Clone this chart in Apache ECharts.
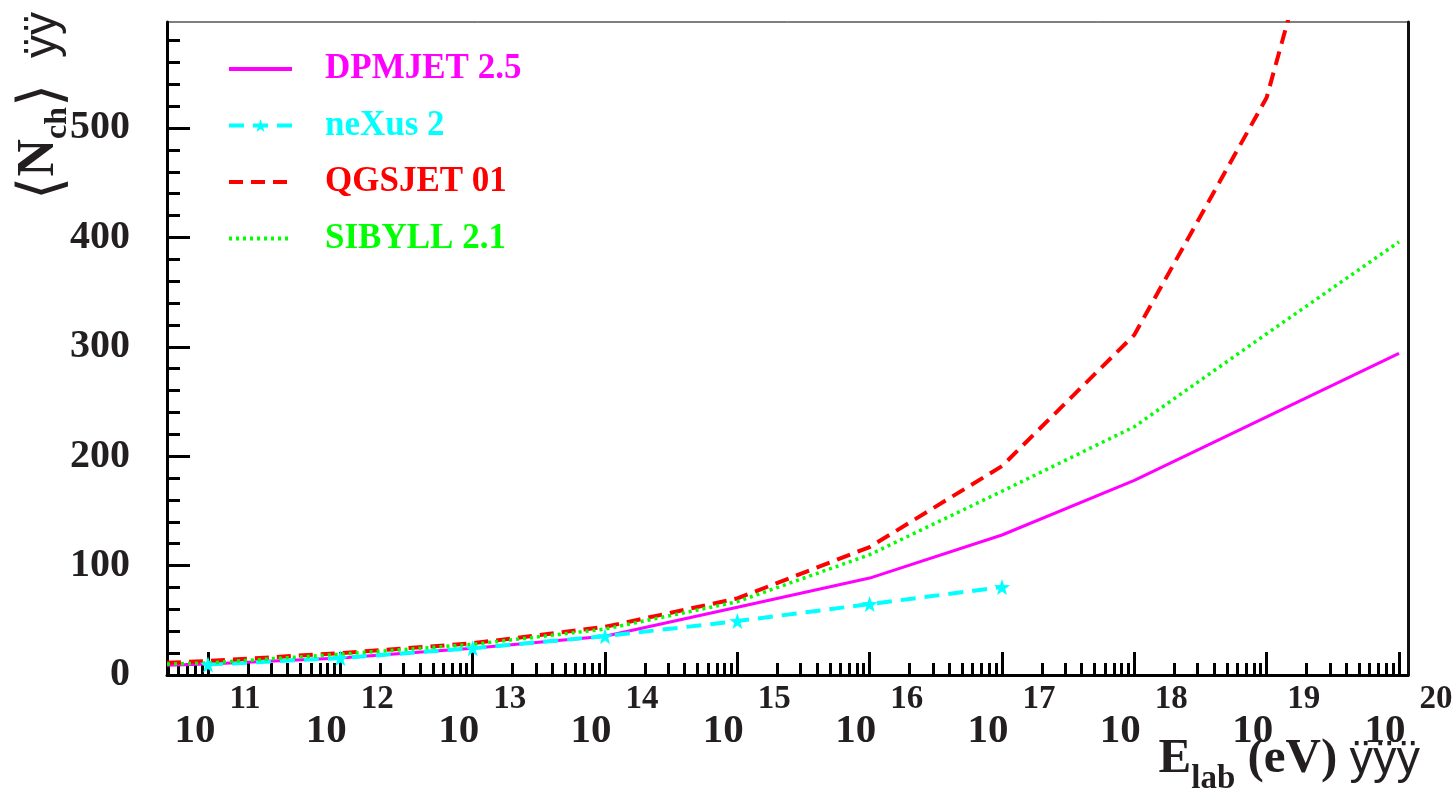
<!DOCTYPE html>
<html>
<head>
<meta charset="utf-8">
<script src="https://cdn.jsdelivr.net/npm/echarts@6/dist/echarts.min.js"></script>
<style>
  html, body { margin: 0; padding: 0; background: #fff; }
  #nch-chart { width: 1454px; height: 790px; }
</style>
</head>
<body>
<div id="nch-chart"></div>
<script>
// log10(E_lab / eV) of each point, and <N_ch>
var dpmjetExp = [10.69, 11, 12, 13, 14, 15, 16, 17, 18, 19, 20];
var dpmjetNch = [9, 10, 15.5, 24.5, 35.5, 62, 88.6, 128, 178, 236, 294];

var nexusExp = [11, 12, 13, 14, 15, 16, 17];
var nexusNch = [9.5, 15.5, 24.5, 35.5, 49.3, 64.8, 80.4];

var qgsjetExp = [10.69, 11, 12, 13, 14, 15, 16, 17, 18, 19, 20];
var qgsjetNch = [11.2, 12.8, 20, 29, 44, 70, 117, 191, 311, 528, 966];

var sibyllExp = [10.69, 11, 12, 13, 14, 15, 16, 17, 18, 19, 20];
var sibyllNch = [10, 11, 19, 28, 42, 67, 110, 168, 227, 312, 396];

var decadeExp = [11, 12, 13, 14, 15, 16, 17, 18, 19, 20];
var yMajor = [0, 100, 200, 300, 400, 500];
var yMinor = [20, 40, 60, 80, 120, 140, 160, 180, 220, 240, 260, 280, 320, 340, 360, 380,
              420, 440, 460, 480, 520, 540, 560, 580];

function toPairs(exps, vals) {
  return exps.map(function (e, i) { return [Math.pow(10, e), vals[i]]; });
}

var decadeVals = decadeExp.map(function (e) { return Math.pow(10, e); });
var minorVals = [];
for (var d = 10; d < 20; d++) {
  for (var k = 2; k <= 9; k++) minorVals.push(k * Math.pow(10, d));
}

var serif = 'Liberation Serif, Times New Roman, serif';
var sans = 'Liberation Sans, Arial, sans-serif';
var ink = '#231f20';
var star = 'path://M0,-10L2.35,-3.24L9.51,-3.09L3.8,1.24L5.88,8.09L0,4L-5.88,8.09L-3.8,1.24L-9.51,-3.09L-2.35,-3.24Z';

var xMin = Math.pow(10, 10.69);
var xMax = Math.pow(10, 20.068);

var myChart = echarts.init(document.getElementById('nch-chart'));
myChart.setOption({
  animation: false,
  grid: {
    left: 167, right: 46, top: 22, bottom: 115,
    outerBoundsMode: 'none',
    show: true, borderColor: '#000', borderWidth: 1
  },
  legend: {
    orient: 'vertical',
    left: 222, top: 44,
    itemWidth: 63, itemHeight: 16,
    itemGap: 16.5,
    textStyle: { fontFamily: serif, fontWeight: 'bold', fontSize: 35, lineHeight: 40, padding: [0, 0, 0, 28] },
    data: [
      { name: 'DPMJET 2.5', textStyle: { color: '#ff00ff' }, itemStyle: { opacity: 0 }, lineStyle: { width: 4 } },
      { name: 'neXus 2', textStyle: { color: '#00ffff' }, lineStyle: { width: 4 } },
      { name: 'QGSJET 01', textStyle: { color: '#ff0000' }, itemStyle: { opacity: 0 }, lineStyle: { width: 4 } },
      { name: 'SIBYLL 2.1', textStyle: { color: '#00ff00' }, itemStyle: { opacity: 0 }, lineStyle: { width: 4 } }
    ]
  },
  xAxis: [
    {
      type: 'log', min: xMin, max: xMax,
      position: 'bottom',
      axisLine: { lineStyle: { color: '#000', width: 3 } },
      axisTick: { inside: true, length: 23, customValues: decadeVals, lineStyle: { color: '#000', width: 3 } },
      splitLine: { show: false },
      axisLabel: {
        customValues: decadeVals,
        margin: 36,
        padding: [0, 0, 0, 19],
        formatter: function (v) {
          return '{b|10}{e|' + Math.round(Math.log10(v)) + '}';
        },
        rich: {
          b: { fontFamily: serif, fontWeight: 'bold', fontSize: 41, lineHeight: 41, color: ink, verticalAlign: 'bottom' },
          e: { fontFamily: serif, fontWeight: 'bold', fontSize: 33, lineHeight: 33, color: ink, verticalAlign: 'bottom', padding: [0, 0, 36, 14] }
        }
      },
      name: '{E|E}{s|lab}{t| (eV) }{y|ÿÿÿ}',
      nameLocation: 'end',
      nameGap: 12,
      nameMoveOverlap: false,
      nameTextStyle: {
        align: 'right', verticalAlign: 'top', padding: [60, 0, 0, 0],
        rich: {
          E: { fontFamily: serif, fontWeight: 'bold', fontSize: 49, color: ink, verticalAlign: 'bottom', padding: [0, 0, 12, 0] },
          s: { fontFamily: serif, fontWeight: 'bold', fontSize: 33, color: ink, verticalAlign: 'bottom' },
          t: { fontFamily: serif, fontWeight: 'bold', fontSize: 49, color: ink, verticalAlign: 'bottom', padding: [0, 0, 12, 0] },
          y: { fontFamily: sans, fontSize: 47, color: ink, verticalAlign: 'bottom', padding: [0, 0, 12, 0] }
        }
      }
    },
    {
      type: 'log', min: xMin, max: xMax,
      position: 'bottom',
      axisLine: { show: false },
      axisTick: { inside: true, length: 12, customValues: minorVals, lineStyle: { color: '#000', width: 3 } },
      splitLine: { show: false },
      axisLabel: { show: false }
    }
  ],
  yAxis: [
    {
      type: 'value', min: 0, max: 597,
      position: 'left',
      axisLine: { show: true, lineStyle: { color: '#000', width: 3 } },
      axisTick: { show: true, inside: true, length: 23, customValues: yMajor, lineStyle: { color: '#000', width: 3 } },
      splitLine: { show: false },
      axisLabel: {
        customValues: yMajor,
        margin: 37,
        fontFamily: serif, fontWeight: 'bold', fontSize: 40, color: ink
      },
      name: '{a|⟨}{N|N}{s|ch}{a|⟩}{y|  ÿÿ}',
      nameLocation: 'end',
      nameRotate: 90,
      nameGap: 10,
      nameMoveOverlap: false,
      nameTextStyle: {
        align: 'right', verticalAlign: 'bottom', padding: [0, 0, 93, 0],
        rich: {
          a: { fontFamily: 'DejaVu Serif, serif', fontSize: 60, color: ink, verticalAlign: 'bottom' },
          N: { fontFamily: serif, fontWeight: 'bold', fontSize: 52, color: ink, verticalAlign: 'bottom', padding: [0, 0, 8, 0] },
          s: { fontFamily: serif, fontWeight: 'bold', fontSize: 32, color: ink, verticalAlign: 'bottom' },
          y: { fontFamily: sans, fontSize: 46, color: ink, verticalAlign: 'bottom', padding: [0, 0, 8, 0] }
        }
      }
    },
    {
      type: 'value', min: 0, max: 597,
      position: 'left',
      axisLine: { show: false },
      axisTick: { show: true, inside: true, length: 13, customValues: yMinor, lineStyle: { color: '#000', width: 3 } },
      splitLine: { show: false },
      axisLabel: { show: false }
    },
    {
      type: 'value', min: 0, max: 597,
      position: 'right',
      axisLine: { show: true, lineStyle: { color: '#111', width: 3 } },
      axisTick: { show: false },
      splitLine: { show: false },
      axisLabel: { show: false }
    }
  ],
  series: [
    {
      name: 'DPMJET 2.5', type: 'line', symbol: 'none',
      lineStyle: { color: '#ff00ff', width: 3 },
      itemStyle: { color: '#ff00ff' },
      data: toPairs(dpmjetExp, dpmjetNch)
    },
    {
      name: 'neXus 2', type: 'line', symbol: star, symbolSize: 16,
      lineStyle: { color: '#00ffff', width: 4, type: [15, 9] },
      itemStyle: { color: '#00ffff' },
      data: toPairs(nexusExp, nexusNch)
    },
    {
      name: 'QGSJET 01', type: 'line', symbol: 'none',
      lineStyle: { color: '#ff0000', width: 4, type: [14, 8] },
      itemStyle: { color: '#ff0000' },
      data: toPairs(qgsjetExp, qgsjetNch)
    },
    {
      name: 'SIBYLL 2.1', type: 'line', symbol: 'none',
      lineStyle: { color: '#00ff00', width: 3.5, type: [3, 4] },
      itemStyle: { color: '#00ff00' },
      data: toPairs(sibyllExp, sibyllNch)
    }
  ]
});
</script>
</body>
</html>
